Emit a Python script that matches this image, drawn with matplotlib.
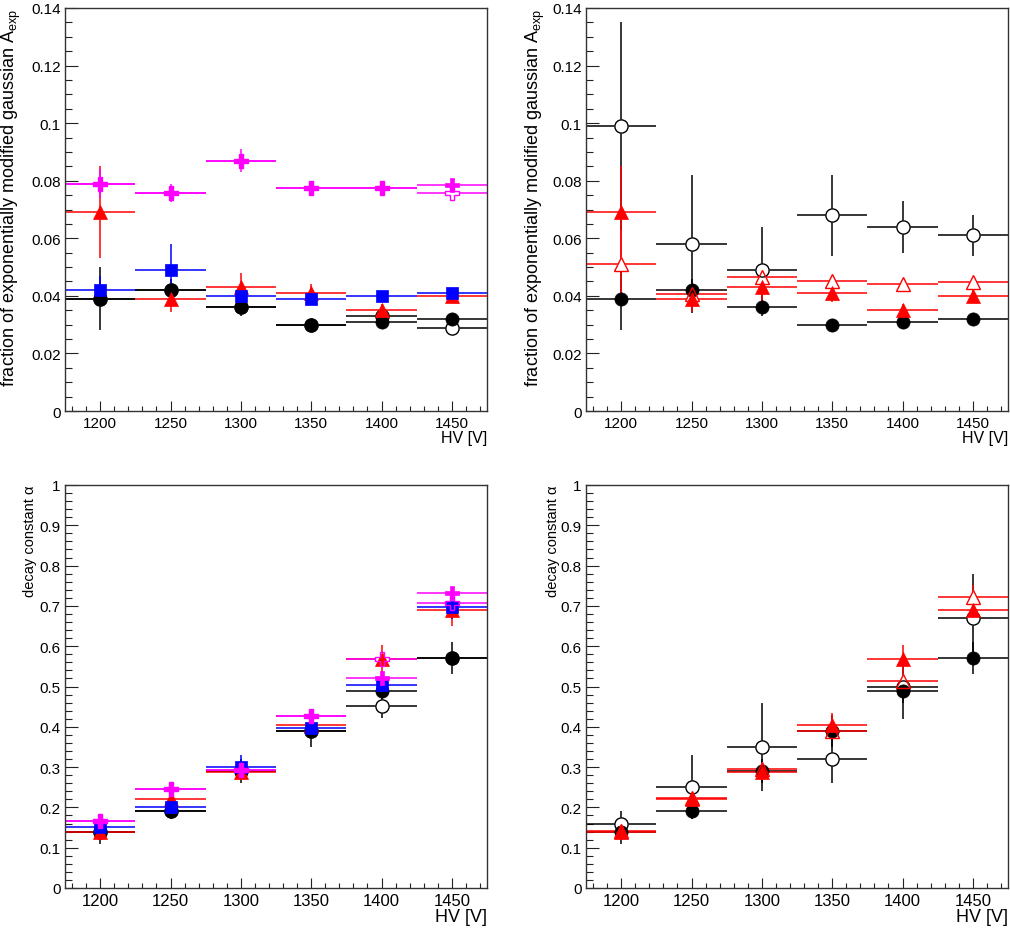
import matplotlib
matplotlib.use("Agg")
import matplotlib.pyplot as plt
from matplotlib.ticker import MultipleLocator, FuncFormatter

plt.rcParams['font.family'] = ['Liberation Sans', 'DejaVu Sans']
plt.rcParams['mathtext.fontset'] = 'custom'
plt.rcParams['mathtext.rm'] = 'Liberation Sans'
plt.rcParams['mathtext.default'] = 'regular'

# ---------------- data ----------------
hv = [1200, 1250, 1300, 1350, 1400, 1450]
hv_err = [25, 25, 25, 25, 25, 25]

# fraction A_exp
aexp_A = [0.039, 0.042, 0.036, 0.030, 0.031, 0.032]          # black filled circle
aexp_A_err = [0.011, 0.004, 0.003, 0.001, 0.001, 0.001]
aexp_B = [0.039, 0.042, 0.036, 0.030, 0.033, 0.029]          # black open circle (left)
aexp_B_err = [0.001, 0.001, 0.001, 0.001, 0.001, 0.001]
aexp_C = [0.069, 0.039, 0.043, 0.041, 0.035, 0.040]          # red filled triangle
aexp_C_err = [0.016, 0.0045, 0.005, 0.003, 0.002, 0.002]
aexp_D = [0.042, 0.049, 0.040, 0.039, 0.040, 0.041]          # blue square
aexp_D_err = [0.005, 0.009, 0.002, 0.002, 0.001, 0.001]
aexp_E = [0.079, 0.0757, 0.087, 0.0775, 0.0773, 0.0785]      # magenta filled cross
aexp_E_err = [0.005, 0.003, 0.004, 0.0015, 0.0015, 0.002]
aexp_F = [0.079, 0.0757, 0.087, 0.0775, 0.0773, 0.0757]      # magenta open cross
aexp_F_err = [0.001, 0.001, 0.001, 0.001, 0.001, 0.001]
aexp_G = [0.099, 0.058, 0.049, 0.068, 0.064, 0.061]          # black open circle (right)
aexp_G_err = [0.036, 0.024, 0.015, 0.014, 0.009, 0.007]
aexp_H = [0.051, 0.0405, 0.0465, 0.045, 0.0442, 0.0448]      # red open triangle
aexp_H_err = [0.012, 0.002, 0.002, 0.002, 0.001, 0.001]

# decay constant alpha
alpha_A = [0.138, 0.19, 0.29, 0.389, 0.49, 0.57]
alpha_A_err = [0.028, 0.02, 0.03, 0.04, 0.03, 0.04]
alpha_B = [0.138, 0.19, 0.29, 0.389, 0.451, 0.57]
alpha_B_err = [0.01, 0.01, 0.01, 0.01, 0.03, 0.01]
alpha_C = [0.138, 0.22, 0.289, 0.405, 0.567, 0.691]
alpha_C_err = [0.02, 0.02, 0.02, 0.03, 0.035, 0.04]
alpha_D = [0.152, 0.20, 0.301, 0.396, 0.503, 0.697]
alpha_D_err = [0.015, 0.015, 0.028, 0.015, 0.02, 0.03]
alpha_E = [0.167, 0.246, 0.292, 0.426, 0.52, 0.733]
alpha_E_err = [0.01, 0.01, 0.01, 0.01, 0.01, 0.01]
alpha_F = [0.167, 0.246, 0.292, 0.426, 0.567, 0.706]
alpha_F_err = [0.01, 0.01, 0.01, 0.01, 0.01, 0.01]
alpha_G = [0.16, 0.25, 0.35, 0.32, 0.50, 0.67]
alpha_G_err = [0.03, 0.08, 0.11, 0.06, 0.08, 0.11]
alpha_H = [0.142, 0.224, 0.296, 0.39, 0.514, 0.723]
alpha_H_err = [0.01, 0.01, 0.01, 0.01, 0.015, 0.03]

BLACK, RED, BLUE, MAG = '#000000', '#ff0000', '#0000ff', '#ff00ff'

# style: (marker, color, filled)
styles = {
    'A': ('o', BLACK, True),
    'B': ('o', BLACK, False),
    'C': ('^', RED, True),
    'D': ('s', BLUE, True),
    'E': ('P', MAG, True),
    'F': ('P', MAG, False),
    'G': ('o', BLACK, False),
    'H': ('^', RED, False),
}

fig = plt.figure(figsize=(10.10, 9.29), dpi=100)
W, H = 1010, 929
def ax_at(x0, top, x1, bottom):
    return fig.add_axes([x0 / W, (H - bottom) / H, (x1 - x0) / W, (bottom - top) / H])

ax_tl = ax_at(65, 9, 487, 412)
ax_tr = ax_at(586, 9, 1008, 412)
ax_bl = ax_at(65, 486, 487, 889)
ax_br = ax_at(586, 486, 1008, 889)

def msize(m):
    return 10.5 if m == 'P' else (9.5 if m != 's' else 9)

def draw_panel(ax, series):
    # 1) error bars underneath everything
    for key, y, yerr in series:
        m, c, filled = styles[key]
        ax.errorbar(hv, y, xerr=hv_err, yerr=yerr, fmt='none', ecolor=c,
                    elinewidth=1.1, capsize=0, zorder=2)
    # 2) white interiors of open markers (hide error lines through them)
    for key, y, yerr in series:
        m, c, filled = styles[key]
        if not filled:
            ax.plot(hv, y, ls='none', marker=m, ms=msize(m), mfc='white',
                    mec='white', mew=0.5, zorder=2.5)
    # 3) markers in drawing order, open markers hollow
    for i, (key, y, yerr) in enumerate(series):
        m, c, filled = styles[key]
        ax.plot(hv, y, ls='none', marker=m, ms=msize(m), mec=c,
                mfc=c if filled else 'none', mew=0.5 if filled else 1.0,
                zorder=3 + 0.01 * i)

def fmt_num(v, pos):
    s = ('%.2f' % v).rstrip('0').rstrip('.')
    return s if s else '0'

def style(ax, ymax, ymajor, yminor, ylabel, ylabel_x, ylabel_fs, xtick_fs, xlab_fs, xlab_y):
    ax.set_xlim(1175, 1475)
    ax.set_ylim(0, ymax)
    ax.xaxis.set_major_locator(MultipleLocator(50))
    ax.xaxis.set_minor_locator(MultipleLocator(10))
    ax.yaxis.set_major_locator(MultipleLocator(ymajor))
    ax.yaxis.set_minor_locator(MultipleLocator(yminor))
    ax.yaxis.set_major_formatter(FuncFormatter(fmt_num))
    ax.tick_params(axis='both', which='both', direction='in', top=False, right=False,
                   colors='#222222', labelcolor='black', width=0.8)
    ax.tick_params(axis='x', which='major', length=7.5, pad=3.5, labelsize=xtick_fs)
    ax.tick_params(axis='x', which='minor', length=3.8)
    ax.tick_params(axis='y', which='major', length=9.5, pad=3, labelsize=11)
    ax.tick_params(axis='y', which='minor', length=5)
    for sp in ax.spines.values():
        sp.set_color('#333333')
        sp.set_linewidth(1.0)
    ax.text(1.0, xlab_y, 'HV [V]', transform=ax.transAxes, ha='right', va='center',
            fontsize=xlab_fs)
    ax.text(ylabel_x, 1.0, ylabel, transform=ax.transAxes, rotation=90,
            ha='center', va='top', fontsize=ylabel_fs)

lab_top = 'fraction of exponentially modified gaussian A$_{exp}$'
lab_bot = 'decay constant α'

# top-left
draw_panel(ax_tl, [('A', aexp_A, aexp_A_err), ('B', aexp_B, aexp_B_err),
                   ('C', aexp_C, aexp_C_err), ('D', aexp_D, aexp_D_err),
                   ('E', aexp_E, aexp_E_err), ('F', aexp_F, aexp_F_err)])
style(ax_tl, 0.14, 0.02, 0.005, lab_top, -0.126, 13, 11, 11.5, -0.065)

# top-right
draw_panel(ax_tr, [('A', aexp_A, aexp_A_err), ('G', aexp_G, aexp_G_err),
                   ('C', aexp_C, aexp_C_err), ('H', aexp_H, aexp_H_err)])
style(ax_tr, 0.14, 0.02, 0.005, lab_top, -0.121, 13, 11, 11.5, -0.065)

# bottom-left
draw_panel(ax_bl, [('A', alpha_A, alpha_A_err), ('B', alpha_B, alpha_B_err),
                   ('C', alpha_C, alpha_C_err), ('D', alpha_D, alpha_D_err),
                   ('E', alpha_E, alpha_E_err), ('F', alpha_F, alpha_F_err)])
style(ax_bl, 1.0, 0.1, 0.02, lab_bot, -0.083, 10.5, 12, 13, -0.071)

# bottom-right
draw_panel(ax_br, [('A', alpha_A, alpha_A_err), ('G', alpha_G, alpha_G_err),
                   ('C', alpha_C, alpha_C_err), ('H', alpha_H, alpha_H_err)])
style(ax_br, 1.0, 0.1, 0.02, lab_bot, -0.078, 10.5, 12, 13, -0.071)

fig.savefig('out.png', dpi=100)
